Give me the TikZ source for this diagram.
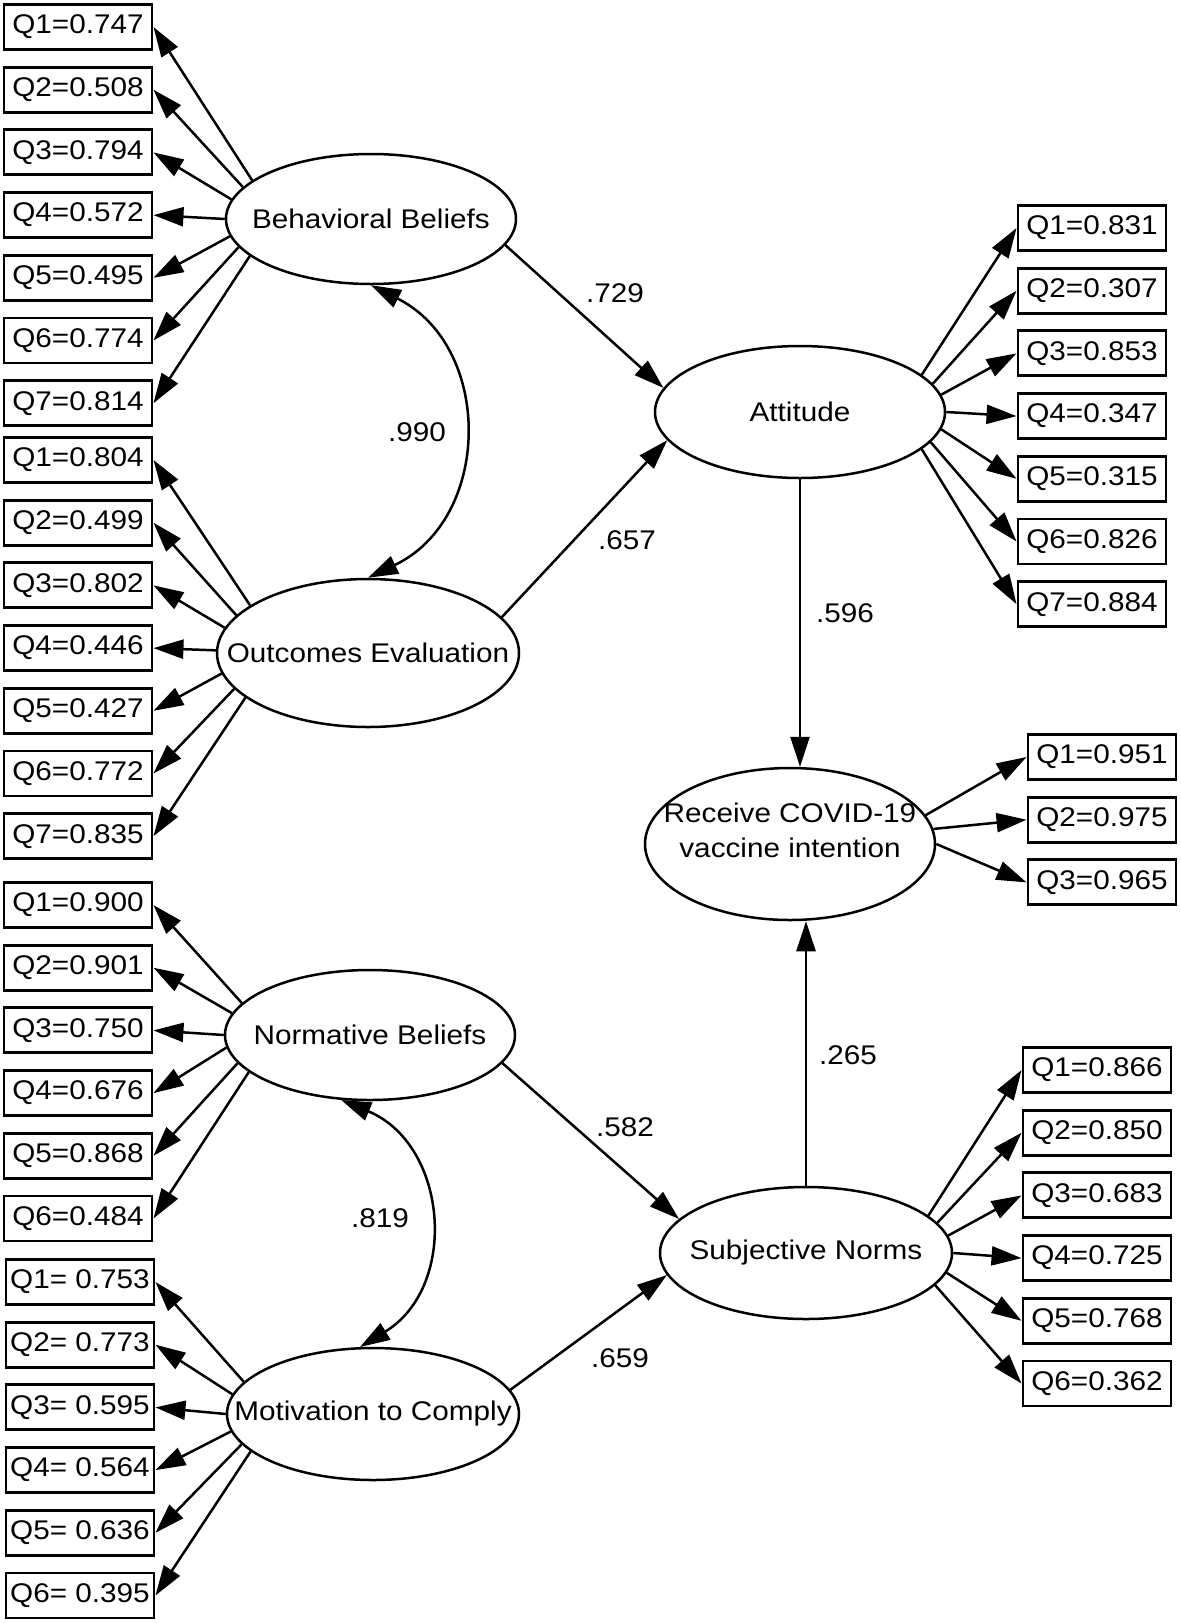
\documentclass[tikz,border=0pt]{standalone}
\usepackage{fontspec}
\setmainfont{Liberation Sans}[FakeStretch=1.1]
\usepackage{tikz}
\usetikzlibrary{arrows.meta, shapes.geometric}
\tikzstyle{diagram} = [x = 0.5pt, y = -0.5pt, every node/.style={font=\fontsize{13.5}{17.5}\selectfont}]
\tikzstyle{latentStyle} = [draw, ellipse, line width=1.25pt, inner sep=0pt]
\tikzstyle{itemStyle} = [draw, line width=1.45pt, minimum width=74pt, minimum height=22.5pt, inner sep=0pt]
\tikzstyle{pathStyle} = [line width=1.25pt, -{Triangle[length=15pt, width=9.5pt]}]
\tikzstyle{covStyle} = [line width=1.25pt, {Triangle[length=15pt, width=9.5pt]}-{Triangle[length=15pt, width=9.5pt]}, looseness=1.2]
\tikzstyle{weightText} = [inner sep=0pt]
\newcommand{\itemStep}{62.7}
\newcommand{\latent}[6]{\node [latentStyle, minimum width=#5pt, minimum height=#6pt] (#1) at (#2, #3) {\makebox[0pt]{#4}};}
\newcommand{\itemsOf}[6]{
  \foreach \itemNo/\itemAngle/\itemValue in {#6} {
    \pgfmathsetmacro{\itemY}{#3 + \itemStep * (\itemNo - 1)}
    \node [itemStyle] (#1q\itemNo) at (#2, \itemY) {Q\itemNo#5\itemValue};
    \draw [pathStyle] (#1.\itemAngle) -- (#1q\itemNo.#4);
  }
}

\begin{document}
\begin{tikzpicture}[diagram]
  \useasboundingbox (0,0) rectangle (1180,1623);
  % latent variables
  \latent{bb}{371}{219}{Behavioral Beliefs}{145}{65}
  \latent{oe}{368}{653}{Outcomes Evaluation}{151}{74}
  \latent{att}{800}{412}{Attitude}{145}{66}
  \latent{rcv}{790}{844}{\smash{\raisebox{2pt}{\begin{tabular}{@{}c@{}}Receive COVID-19\\vaccine intention\end{tabular}}}}{145}{76}
  \latent{nb}{370}{1035}{Normative Beliefs}{145}{65}
  \latent{mc}{373}{1414}{Motivation to Comply}{146}{66}
  \latent{sn}{806}{1253}{Subjective Norms}{146}{66}

  % indicators
  \itemsOf{bb}{78}{27}{east}{=}{1/162/0.747, 2/166/0.508, 3/172/0.794, 4/180/0.572, 5/187/0.495, 6/192/0.774, 7/197/0.814}
  \itemsOf{oe}{78}{460}{east}{=}{1/158/0.804, 2/164/0.499, 3/170/0.802, 4/179/0.446, 5/188/0.427, 6/195/0.772, 7/200/0.835}
  \itemsOf{nb}{78}{905}{east}{=}{1/166/0.900, 2/171/0.901, 3/180/0.750, 4/185/0.676, 5/192/0.868, 6/197/0.484}
  \itemsOf{mc}{80}{1282}{east}{= }{1/166/0.753, 2/172/0.773, 3/180/0.595, 4/187/0.564, 5/193/0.636, 6/197/0.395}
  \itemsOf{att}{1092}{228}{west}{=}{1/17/0.831, 2/12/0.307, 3/7/0.853, 4/0/0.347, 5/-7/0.315, 6/-13/0.826, 7/-17/0.884}
  \itemsOf{rcv}{1102}{757}{west}{=}{1/12/0.951, 2/6/0.975, 3/0/0.965}
  \itemsOf{sn}{1097}{1070}{west}{=}{1/17/0.866, 2/13/0.850, 3/7/0.683, 4/0/0.725, 5/-8/0.768, 6/-14/0.362}

  % structural paths
  \draw [pathStyle] (bb.-11) -- (att.170);
  \draw [pathStyle] (oe.15) -- (att.192);
  \draw [pathStyle] (att.south) -- (att.south |- rcv.north);
  \draw [pathStyle] (nb.-12) -- (sn.165);
  \draw [pathStyle] (mc.10) -- (sn.189);
  \draw [pathStyle] (sn.north) -- (sn.north |- rcv.south);

  % covariances
  \draw [covStyle] (bb.south) to [bend left=64] (oe.north);
  \draw [covStyle] (nb.-114) to [bend left=63] (mc.101);

  % weights
  \node [weightText] (wBbAtt) at (615, 293) {.729};
  \node [weightText] (wOeAtt) at (627, 540) {.657};
  \node [weightText] (wAttRcv) at (845, 613) {.596};
  \node [weightText] (wSnRcv) at (848, 1055) {.265};
  \node [weightText] (wNbSn) at (625, 1127) {.582};
  \node [weightText] (wMcSn) at (620, 1358) {.659};
  \node [weightText] (wBbOe) at (417, 432) {.990};
  \node [weightText] (wNbMc) at (380, 1218) {.819};
\end{tikzpicture}
\end{document}
